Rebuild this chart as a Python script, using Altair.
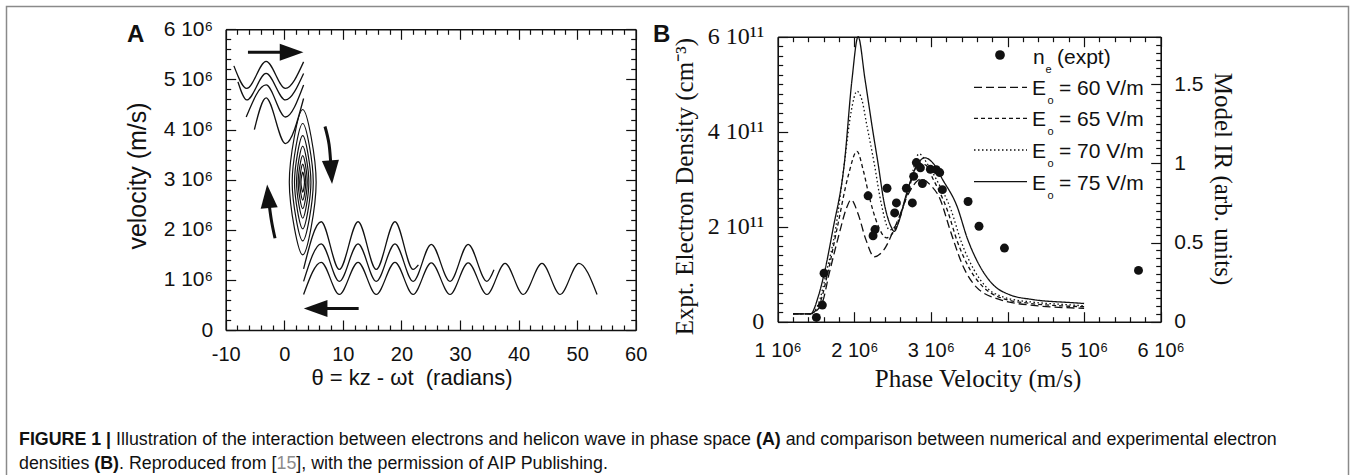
import altair as alt
import pandas as pd

W, H = 1354, 475
SANS = "Liberation Sans"
NARROW = "Liberation Sans Narrow, Liberation Sans"
SERIF = "Liberation Serif"
INK = "#111111"

# ---------------- Panel A : phase-space orbits (theta [rad], v [1e6 m/s]) ----------------
u1_theta = [-8.6, -6.4, -3.1, 0.2, 3.3]
u1_vel = [5.27, 4.82, 5.36, 4.82, 5.35]
u2_theta = [-7.9, -6.4, -3.1, 0.2, 3.3]
u2_vel = [4.95, 4.59, 5.12, 4.59, 5.12]
u3_theta = [-6.5, -3.1, 0.2, 3.3]
u3_vel = [4.25, 4.89, 4.25, 4.89]
u4_theta = [-5.1, -3.1, 0.2, 3.3]
u4_vel = [4.00, 4.63, 3.72, 4.62]
l1_theta = [3.3, 6.3, 9.4, 12.6, 15.7, 18.9, 22.0, 22.9]
l1_vel = [1.22, 2.16, 1.21, 2.16, 1.21, 2.16, 1.21, 1.30]
l2_theta = [3.3, 6.3, 9.4, 12.6, 15.7, 18.9, 22.0, 25.1, 28.3, 31.4, 34.6, 35.8]
l2_vel = [0.97, 1.72, 0.97, 1.72, 0.97, 1.72, 0.97, 1.71, 0.97, 1.71, 0.97, 1.20]
l3_theta = [3.3, 6.3, 9.4, 12.6, 15.7, 18.9, 22.0, 25.1, 28.3, 31.4, 34.6,
            37.7, 40.8, 44.0, 47.1, 50.3, 53.4]
l3_vel = [0.71, 1.35, 0.71, 1.35, 0.71, 1.35, 0.71, 1.34, 0.71, 1.34, 0.71,
          1.33, 0.71, 1.33, 0.71, 1.33, 0.71]

# trapped orbits around the O-point
ring_center_theta = 3.15
ring_center_vel = 2.95
ring_half_width = [2.29, 1.80, 1.40, 1.05, 0.77, 0.52, 0.30]
ring_half_height = [1.45, 1.17, 0.93, 0.72, 0.53, 0.36, 0.20]

# annotation arrows (shaft points and head centres, data units)
arrow_names = ["right", "down", "up", "left"]
arrow_theta = [[-6.2, 1.3], [6.95, 7.65, 8.0], [-1.58, -2.2, -2.7], [12.7, 5.3]]
arrow_vel = [[5.54, 5.54], [4.06, 3.70, 3.20], [1.83, 2.19, 2.62], [0.43, 0.43]]
head_theta = [1.25, 8.02, -2.75, 5.35]
head_vel = [5.54, 3.15, 2.67, 0.43]
head_angle = [90, 176, 355, 270]

# ---------------- Panel B : density vs phase velocity ----------------
# experimental points: velocity [1e6 m/s], density [1e11 cm^-3]
ne_velocity = [1.505, 1.583, 1.605, 2.18, 2.245, 2.27, 2.427, 2.527, 2.55, 2.68, 2.758,
               2.775, 2.81, 2.863, 2.889, 2.993, 3.07, 3.115, 3.15, 3.485, 3.628, 3.96, 5.71]
ne_density = [0.09, 0.35, 1.02, 2.65, 1.81, 1.94, 2.81, 2.29, 2.50, 2.81, 2.50,
              3.06, 3.35, 3.24, 2.91, 3.21, 3.20, 3.14, 2.78, 2.53, 2.01, 1.55, 1.08]

# model ionization rate (arb. units) for four wave fields
e60_x = [1.20, 1.43, 1.58, 1.67, 1.80, 1.90, 1.957, 2.05, 2.15, 2.26, 2.38, 2.55, 2.72,
         2.87, 3.00, 3.115, 3.25, 3.42, 3.59, 3.90, 4.40, 5.00]
e60_r = [0.05, 0.05, 0.12, 0.30, 0.55, 0.72, 0.77, 0.68, 0.52, 0.41, 0.45, 0.62, 0.82,
         0.90, 0.86, 0.78, 0.58, 0.35, 0.22, 0.14, 0.10, 0.085]
e65_x = [1.20, 1.43, 1.56, 1.65, 1.78, 1.92, 2.035, 2.12, 2.20, 2.30, 2.42, 2.55, 2.70,
         2.84, 2.93, 3.03, 3.21, 3.35, 3.51, 3.68, 3.92, 4.30, 4.70, 5.00]
e65_r = [0.05, 0.05, 0.13, 0.30, 0.60, 0.92, 1.076, 0.95, 0.78, 0.62, 0.53, 0.60, 0.82,
         1.00, 0.99, 0.90, 0.71, 0.50, 0.33, 0.22, 0.15, 0.115, 0.10, 0.095]
e70_x = [1.20, 1.43, 1.55, 1.63, 1.76, 1.87, 1.96, 2.035, 2.10, 2.16, 2.26, 2.35, 2.46,
         2.53, 2.62, 2.72, 2.845, 2.95, 3.07, 3.26, 3.40, 3.56, 3.72, 3.95, 4.30, 4.70, 5.00]
e70_r = [0.05, 0.05, 0.14, 0.30, 0.60, 1.00, 1.33, 1.455, 1.40, 1.25, 1.00, 0.75, 0.58,
         0.60, 0.70, 0.86, 1.06, 1.00, 0.90, 0.71, 0.50, 0.33, 0.22, 0.155, 0.125, 0.11, 0.10]
e75_x = [1.20, 1.43, 1.53, 1.61, 1.72, 1.87, 1.97, 2.05, 2.14, 2.24, 2.31, 2.39, 2.48,
         2.52, 2.58, 2.67, 2.79, 2.92, 3.03, 3.15, 3.34, 3.48, 3.64, 3.81, 4.03, 4.33,
         4.85, 5.00]
e75_r = [0.05, 0.05, 0.16, 0.31, 0.58, 1.00, 1.53, 1.95, 1.53, 1.21, 1.00, 0.75, 0.60,
         0.57, 0.63, 0.79, 0.96, 1.035, 1.00, 0.90, 0.73, 0.52, 0.35, 0.235, 0.17, 0.14,
         0.12, 0.115]
series_names = ["60", "65", "70", "75"]
series_labels = ["= 60 V/m", "= 65 V/m", "= 70 V/m", "= 75 V/m"]

# axis tick values
a_x_major = [-10, 0, 10, 20, 30, 40, 50, 60]
a_x_minor = [v for v in range(-10, 61, 2) if v % 10]
a_y_major = [0, 1, 2, 3, 4, 5, 6]
a_y_minor = [round(i * 0.2, 1) for i in range(31) if i % 5]
b_x_major = [1, 2, 3, 4, 5, 6]
b_x_minor = [round(1 + i * 0.2, 1) for i in range(26) if i % 5]
b_yl_major = [0, 2, 4, 6]
b_yl_minor = [round(i * 0.2, 1) for i in range(31) if i % 10]
b_yr_major = [0, 0.5, 1, 1.5]
b_yr_minor = [round(i * 0.05, 2) for i in range(37) if i % 10]

# ---------------- layout (pixels) ----------------
AX0, AX1, AYB, AYT = 225.7, 635.7, 330.0, 29.3
BX0, BX1, BYB, BYT = 777.7, 1160.7, 321.7, 36.7


def sc(domain, rng, clamp=False):
    return alt.Scale(domain=domain, range=rng, nice=False, zero=False, clamp=clamp)


XA = sc([-10, 60], [AX0, AX1])
YA = sc([0, 6], [AYB, AYT])
XB = sc([1, 6], [BX0, BX1])
YB = sc([0, 6], [BYB, BYT])
YR = sc([0, 1.8], [BYB, BYT], clamp=True)
DASH = alt.Scale(domain=series_names, range=[[8, 4], [4, 3], [1.5, 2.5], [1, 0]])


def pxX(f):
    return alt.X(f, scale=None, axis=None)


def pxY(f):
    return alt.Y(f, scale=None, axis=None)


def label_axis(orient, offset, values, expr, font, size, pad):
    return alt.Axis(orient=orient, offset=offset, values=values, labelExpr=expr,
                    ticks=False, tickSize=0, domain=False, grid=False, labelPadding=pad,
                    labelFont=font, labelFontSize=size, labelColor=INK,
                    labelOverlap=False, labelFlush=False, title=None)


# ---------- panel A layers ----------
a_rows = []
for name, th, ve in [("U1", u1_theta, u1_vel), ("U2", u2_theta, u2_vel),
                     ("U3", u3_theta, u3_vel), ("U4", u4_theta, u4_vel),
                     ("L1", l1_theta, l1_vel), ("L2", l2_theta, l2_vel),
                     ("L3", l3_theta, l3_vel)]:
    for t, v in zip(th, ve):
        a_rows.append({"curve": name, "theta": t, "vel": v})
df_a = pd.DataFrame(a_rows)

a_lines = alt.Chart(df_a).mark_line(color=INK, strokeWidth=1.3, interpolate="monotone").encode(
    x=alt.X("theta:Q", scale=XA,
            axis=label_axis("bottom", AYB - H, a_x_major, "'' + datum.value", SANS, 20, 14)),
    y=alt.Y("vel:Q", scale=YA,
            axis=label_axis("left", -AX0, a_y_major,
                            "datum.value == 0 ? '0' : datum.value + ' 10\u2076'", SANS, 21, 13)),
    detail="curve:N",
)

ring_rows = []
for k, (hw, hh) in enumerate(zip(ring_half_width, ring_half_height)):
    pts = [(ring_center_theta, ring_center_vel + hh), (ring_center_theta + hw, ring_center_vel),
           (ring_center_theta, ring_center_vel - hh), (ring_center_theta - hw, ring_center_vel)]
    for i, (t, v) in enumerate(pts):
        ring_rows.append({"ring": k, "i": i, "theta": t, "vel": v})
a_rings = alt.Chart(pd.DataFrame(ring_rows)).mark_line(
    color=INK, strokeWidth=1.2, interpolate="cardinal-closed").encode(
    x=alt.X("theta:Q", scale=XA, axis=None),
    y=alt.Y("vel:Q", scale=YA, axis=None),
    detail="ring:N", order="i:Q")

shaft_rows = []
for name, th, ve in zip(arrow_names, arrow_theta, arrow_vel):
    for i, (t, v) in enumerate(zip(th, ve)):
        shaft_rows.append({"arrow": name, "i": i, "theta": t, "vel": v})
a_shafts = alt.Chart(pd.DataFrame(shaft_rows)).mark_line(
    color=INK, strokeWidth=3, interpolate="cardinal").encode(
    x=alt.X("theta:Q", scale=XA, axis=None),
    y=alt.Y("vel:Q", scale=YA, axis=None),
    detail="arrow:N", order="i:Q")

df_heads = pd.DataFrame({"theta": head_theta, "vel": head_vel, "ang": head_angle})
a_heads = alt.Chart(df_heads).mark_point(
    shape="M0,-1L0.72,1L-0.72,1Z", filled=True, color=INK, opacity=1, size=560).encode(
    x=alt.X("theta:Q", scale=XA, axis=None),
    y=alt.Y("vel:Q", scale=YA, axis=None),
    angle=alt.Angle("ang:Q", scale=None))

# ---------- panel B layers ----------
curve_rows = []
for s, xs, rs in zip(series_names, [e60_x, e65_x, e70_x, e75_x], [e60_r, e65_r, e70_r, e75_r]):
    for x, r in zip(xs, rs):
        curve_rows.append({"series": s, "vphase": x, "rate": r})
b_curves = alt.Chart(pd.DataFrame(curve_rows)).mark_line(
    color=INK, strokeWidth=1.3, interpolate="monotone").encode(
    x=alt.X("vphase:Q", scale=XB, axis=None),
    y=alt.Y("rate:Q", scale=YR,
            axis=label_axis("right", BX1 - W, b_yr_major, "'' + datum.value", SANS, 21, 13)),
    strokeDash=alt.StrokeDash("series:N", scale=DASH, legend=None),
    detail="series:N")

b_points = alt.Chart(pd.DataFrame({"vphase": ne_velocity, "dens": ne_density})).mark_circle(
    size=80, color=INK, opacity=1).encode(
    x=alt.X("vphase:Q", scale=XB,
            axis=label_axis("bottom", BYB - H, b_x_major, "datum.value + ' 10\u2076'",
                            SANS, 20, 19)),
    y=alt.Y("dens:Q", scale=YB,
            axis=label_axis("left", -BX0, b_yl_major,
                            "datum.value == 0 ? '0' : datum.value + ' 10\u00b9\u00b9'",
                            SERIF, 24, 14)))


# ---------- frames + inward ticks, drawn by tick-only axes ----------
def tick_axis(orient, offset, values, size, domain):
    return alt.Axis(orient=orient, offset=offset, values=values, labels=False, ticks=True,
                    tickSize=size, tickWidth=1.2, tickColor=INK, grid=False, domain=domain,
                    domainColor=INK, domainWidth=1.6, title=None)


def tick_layer(xscale, yscale, xorient, xoff, yorient, yoff, xvals, yvals, size, domain):
    df = pd.DataFrame({"tx": [xvals[0]], "ty": [yvals[0]]})
    return alt.Chart(df).mark_point(opacity=0).encode(
        x=alt.X("tx:Q", scale=xscale, axis=tick_axis(xorient, xoff, xvals, size, domain)),
        y=alt.Y("ty:Q", scale=yscale, axis=tick_axis(yorient, yoff, yvals, size, domain)))


tick_layers = [
    # panel A: bottom + left edges, then top + right edges
    tick_layer(XA, YA, "top", -AYB, "right", AX0 - W, a_x_major, a_y_major, 10, True),
    tick_layer(XA, YA, "top", -AYB, "right", AX0 - W, a_x_minor, a_y_minor, 5, False),
    tick_layer(XA, YA, "bottom", AYT - H, "left", -AX1, a_x_major, a_y_major, 10, True),
    tick_layer(XA, YA, "bottom", AYT - H, "left", -AX1, a_x_minor, a_y_minor, 5, False),
    # panel B: bottom + left (density) edges, then top + right (model) edges
    tick_layer(XB, YB, "top", -BYB, "right", BX0 - W, b_x_major, b_yl_major, 10, True),
    tick_layer(XB, YB, "top", -BYB, "right", BX0 - W, b_x_minor, b_yl_minor, 5, False),
    tick_layer(XB, YR, "bottom", BYT - H, "left", -BX1, b_x_major, b_yr_major, 10, True),
    tick_layer(XB, YR, "bottom", BYT - H, "left", -BX1, b_x_minor, b_yr_minor, 5, False),
]

# ---------- figure border ----------
border = alt.Chart(pd.DataFrame({"px": [6.5, 6.5, 1348.5, 1348.5],
                                 "py": [520, 6.5, 6.5, 520], "i": [0, 1, 2, 3]})).mark_line(
    color="#8a8a8a", strokeWidth=1.5).encode(x=pxX("px:Q"), y=pxY("py:Q"), order="i:Q")


# ---------- text helper ----------
def text_layer(rows, **kw):
    style = dict(color=INK, align="left", baseline="middle", font=SANS)
    style.update(kw)
    df = pd.DataFrame(rows, columns=["px", "py", "label"])
    return alt.Chart(df).mark_text(**style).encode(
        x=pxX("px:Q"), y=pxY("py:Q"), text="label:N")


# ---------- legend of panel B ----------
LEG_Y = [87.3, 118.3, 150.0, 181.7]
legend_lines = alt.Chart(pd.DataFrame({"series": series_names, "x0": [974] * 4,
                                       "x1": [1027] * 4, "py": LEG_Y})).mark_rule(
    color=INK, strokeWidth=1.3).encode(
    x=pxX("x0:Q"), x2="x1:Q", y=pxY("py:Q"),
    strokeDash=alt.StrokeDash("series:N", scale=DASH, legend=None))
legend_dot = alt.Chart(pd.DataFrame({"px": [1000], "py": [55]})).mark_circle(
    size=95, color=INK, opacity=1).encode(x=pxX("px:Q"), y=pxY("py:Q"))
legend_texts = [
    text_layer([(1033, 58, "n"), (1057, 58, "(expt)")] +
               [(1032, y + 2, "E") for y in LEG_Y] +
               [(1059, y + 2, lab) for y, lab in zip(LEG_Y, series_labels)], fontSize=21),
    text_layer([(1045.5, 70, "e")] + [(1047.5, y + 14, "o") for y in LEG_Y],
               fontSize=11),
]

# ---------- titles and panel letters ----------
title_layers = [
    text_layer([(127, 35, "A"), (653, 35, "B")], fontSize=24, fontWeight="bold"),
    text_layer([(138, 176, "velocity (m/s)")], fontSize=25, angle=270, align="center"),
    text_layer([(412, 378, "\u03b8 = kz - \u03c9t\u00a0\u00a0(radians)")], font=NARROW,
               fontSize=22, align="center"),
    text_layer([(685, 186.7, "Expt. Electron Density (cm\u207b\u00b3)")], font=SERIF,
               fontSize=25, angle=270, align="center"),
    text_layer([(1223, 179, "Model IR (arb. units)")], font=SERIF, fontSize=25,
               angle=90, align="center"),
    text_layer([(978, 379, "Phase Velocity (m/s)")], font=SERIF, fontSize=25,
               align="center"),
]

# ---------- caption ----------
HR = {' ': 278, '(': 333, ')': 333, '[': 278, ']': 278, ',': 278, '.': 278, '|': 260,
      '1': 556, '5': 556, 'A': 667, 'B': 667, 'I': 278, 'P': 667, 'R': 722,
      'a': 556, 'b': 556, 'c': 500, 'd': 556, 'e': 556, 'f': 278, 'g': 556, 'h': 556,
      'i': 222, 'j': 222, 'k': 500, 'l': 222, 'm': 833, 'n': 556, 'o': 556, 'p': 556,
      'q': 556, 'r': 333, 's': 500, 't': 278, 'u': 556, 'v': 500, 'w': 722, 'x': 500,
      'y': 500, 'z': 500}
HB = {' ': 278, '(': 333, ')': 333, '|': 280, '1': 556, 'A': 722, 'B': 722, 'E': 667,
      'F': 611, 'G': 778, 'I': 278, 'R': 722, 'U': 722}


def em(s, bold):
    table = HB if bold else HR
    return sum(table.get(ch, 556) for ch in s) / 1000.0


line1 = [("FIGURE 1 | ", True, INK),
         ("Illustration of the interaction between electrons and helicon wave in phase space ",
          False, INK),
         ("(A)", True, INK),
         (" and comparison between numerical and experimental electron", False, INK)]
line2 = [("densities ", False, INK), ("(B)", True, INK), (". Reproduced from [", False, INK),
         ("15", False, "#8c8c8c"), ("], with the permission of AIP Publishing.", False, INK)]

CAP_X0, CAP_X1 = 19.0, 1277.0
cap_size = round((CAP_X1 - CAP_X0) / sum(em(t, b) for t, b, c in line1), 2)

caption_layers = []
for segs, ypos in [(line1, 440), (line2, 464)]:
    x = CAP_X0
    for t, b, c in segs:
        lead = len(t) - len(t.lstrip(" "))
        caption_layers.append(text_layer(
            [(x + lead * 0.278 * cap_size, ypos, t.strip())], fontSize=cap_size,
            fontWeight="bold" if b else "normal", color=c))
        x += em(t, b) * cap_size

layers = ([border] + tick_layers +
          [a_lines, a_rings, a_shafts, a_heads, b_curves, b_points,
           legend_lines, legend_dot] + legend_texts + title_layers + caption_layers)

chart = alt.layer(*layers).resolve_scale(
    x="independent", y="independent"
).properties(
    width=W, height=H, autosize=alt.AutoSizeParams(type="none"), padding=0
).configure_view(strokeWidth=0)

chart.save("out.html", embed_options={"renderer": "svg", "actions": False})
